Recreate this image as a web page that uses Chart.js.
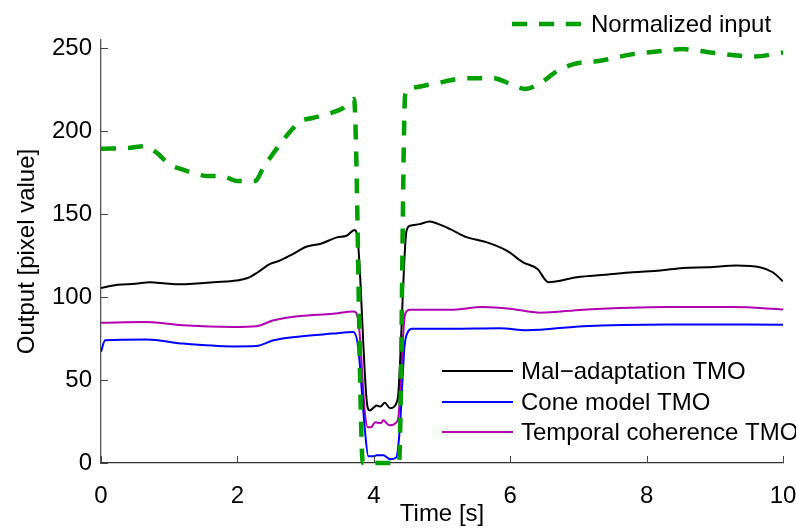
<!DOCTYPE html>
<html>
<head>
<meta charset="utf-8">
<script src="https://cdn.jsdelivr.net/npm/chart.js@4.4.1/dist/chart.umd.min.js"></script>
<style>
    html, body { margin: 0; padding: 0; background: #fff; }
    #wrap { width: 796px; height: 529px; position: relative; }
</style>
</head>
<body>
<div id="wrap"><canvas id="ourChart" width="796" height="529"></canvas></div>
<script>
// значения
const xTicks = [0, 2, 4, 6, 8, 10];
const yTicks = [0, 50, 100, 150, 200, 250];

const inputTime = [0, 0.43, 0.62, 0.82, 1.0, 1.19, 1.33, 1.57, 1.77, 2.0, 2.26, 2.29, 2.38, 2.48, 2.62, 2.82, 2.92, 3.1, 3.33, 3.55, 3.71, 3.84, 4.0, 4.2, 4.37, 4.46, 4.53, 4.87, 5.37, 5.75, 6.0, 6.22, 6.44, 6.68, 6.93, 7.32, 7.8, 8.15, 8.53, 8.93, 9.37, 9.56, 10];
const inputValue = [189.5, 190, 191, 187, 180, 177, 175, 173, 173, 170, 170, 171, 178, 184, 192, 202, 206, 208, 210.5, 214, 219.5, 0, 0, 0, 0, 222, 226, 228.5, 232, 232, 228.5, 225.5, 229, 236, 240.5, 242.5, 246.5, 248, 249.5, 247.5, 245.5, 245, 247.5];

const malTime = [0, 0.25, 0.5, 0.72, 0.95, 1.16, 1.4, 1.65, 1.99, 2.15, 2.3, 2.48, 2.62, 2.77, 3.02, 3.21, 3.46, 3.6, 3.72, 3.77, 3.9, 3.94, 4.0, 4.04, 4.1, 4.16, 4.24, 4.3, 4.33, 4.36, 4.48, 4.53, 4.67, 4.82, 4.95, 5.12, 5.37, 5.66, 5.95, 6.19, 6.4, 6.56, 6.98, 7.4, 7.8, 8.2, 8.53, 8.9, 9.32, 9.66, 9.85, 10];
const malValue = [105.5, 107.5, 108, 109, 108.2, 107.7, 108.2, 109, 110, 111.5, 115, 120, 122, 125, 130.5, 132, 136, 137, 140.5, 132, 36, 31.7, 33.5, 34.6, 34, 36.3, 33, 34, 36, 42, 140, 143, 144, 145.6, 144, 141, 136, 133, 128, 121, 117, 109, 112, 113.5, 115, 116, 117.6, 118, 119, 118, 115, 109.5];

const coneTime = [0, 0.06, 0.67, 1.2, 1.94, 2.28, 2.53, 2.92, 3.4, 3.7, 3.77, 3.87, 3.92, 4.0, 4.04, 4.14, 4.24, 4.33, 4.38, 4.45, 4.5, 4.56, 5.12, 5.85, 6.24, 7.07, 8.3, 10];
const coneValue = [67, 74, 74.5, 72, 70.3, 70.5, 74, 76.3, 78, 79, 70, 19.7, 4, 4, 4.6, 4.6, 2.2, 3.4, 20, 70, 79, 81, 81, 81.3, 80, 82.5, 83.5, 83.4];

const coherenceTime = [0, 0.67, 1.2, 1.94, 2.28, 2.53, 2.92, 3.4, 3.7, 3.77, 3.87, 3.91, 3.96, 4.02, 4.1, 4.14, 4.2, 4.24, 4.33, 4.36, 4.46, 4.53, 5.12, 5.6, 6.0, 6.44, 7.07, 8.3, 9.27, 10];
const coherenceValue = [84.6, 85, 83, 82, 82.5, 86, 88.6, 90, 91.4, 87, 30, 21.5, 21.5, 24.5, 24, 25.7, 23.5, 22.7, 24.5, 27.5, 90, 92.4, 92.4, 94, 93, 90.6, 92.4, 94, 94, 92.6];

const fontFamily = '"Liberation Sans", Arial, Helvetica, sans-serif';
const fontSize = 24;

function toPoints(times, values) {
    let pts = [];
    for (let i = 0; i < times.length; i++) {
        pts.push({x: times[i], y: values[i]});
    }
    return pts;
}

// засечки внутрь графика, как в MATLAB
const innerTicks = {
    id: 'innerTicks',
    afterDraw(chart) {
        const ctx = chart.ctx;
        const xs = chart.scales.x, ys = chart.scales.y;
        const area = chart.chartArea;
        ctx.save();
        ctx.strokeStyle = '#444';
        ctx.lineWidth = 1;
        ctx.beginPath();
        xTicks.forEach(v => {
            const px = Math.round(xs.getPixelForValue(v)) + 0.5;
            ctx.moveTo(px, area.bottom);
            ctx.lineTo(px, area.bottom - 7);
        });
        yTicks.forEach(v => {
            const py = Math.round(ys.getPixelForValue(v)) + 0.5;
            ctx.moveTo(area.left, py);
            ctx.lineTo(area.left + 7, py);
        });
        ctx.stroke();
        ctx.restore();
    }
};

// легенда: первая серия над графиком, остальные внутри справа внизу
const splitLegend = {
    id: 'splitLegend',
    afterDraw(chart) {
        const ctx = chart.ctx;
        const sets = chart.data.datasets;
        const items = [
            {ds: sets[0], x: 512, y: 24},
            {ds: sets[1], x: 442, y: 371},
            {ds: sets[2], x: 442, y: 402},
            {ds: sets[3], x: 442, y: 432}
        ];
        ctx.save();
        ctx.font = fontSize + 'px ' + fontFamily;
        ctx.textBaseline = 'middle';
        ctx.fillStyle = '#000';
        items.forEach(it => {
            ctx.beginPath();
            ctx.strokeStyle = it.ds.borderColor;
            ctx.lineWidth = it.ds.borderWidth;
            ctx.setLineDash(it.ds.borderDash || []);
            ctx.moveTo(it.x, it.y);
            ctx.lineTo(it.x + 71, it.y);
            ctx.stroke();
            ctx.setLineDash([]);
            ctx.fillText(it.ds.label, it.x + 79, it.y + 1);
        });
        ctx.restore();
    }
};

const chartElement = new Chart(document.getElementById('ourChart'), {
    type: 'line',
    data: {
        datasets: [
            {
                label: 'Normalized input',
                data: toPoints(inputTime, inputValue),
                borderColor: '#00a000',
                borderWidth: 4.5,
                borderDash: [15, 12],
                clip: 6
            },
            {
                label: 'Mal\u2212adaptation TMO',
                data: toPoints(malTime, malValue),
                borderColor: '#000000',
                borderWidth: 2
            },
            {
                label: 'Cone model TMO',
                data: toPoints(coneTime, coneValue),
                borderColor: '#0000ff',
                borderWidth: 2
            },
            {
                label: 'Temporal coherence TMO',
                data: toPoints(coherenceTime, coherenceValue),
                borderColor: '#b000b0',
                borderWidth: 2
            }
        ]
    },
    options: {
        responsive: false,
        animation: false,
        events: [],
        layout: {
            padding: {top: 40, right: 13, left: 0, bottom: 0}
        },
        elements: {
            point: {radius: 0},
            line: {cubicInterpolationMode: 'monotone', fill: false}
        },
        plugins: {
            legend: {display: false},
            tooltip: {enabled: false}
        },
        scales: {
            x: {
                type: 'linear',
                min: 0,
                max: 10,
                afterBuildTicks: s => { s.ticks = xTicks.map(v => ({value: v})); },
                afterFit: s => { s.height = 66; s.paddingLeft = 0; s.paddingRight = 0; },
                grid: {display: false, drawTicks: false},
                border: {display: true, color: '#333', width: 1.3},
                ticks: {
                    color: '#000',
                    padding: 19,
                    maxRotation: 0,
                    font: {family: fontFamily, size: fontSize}
                },
                title: {
                    display: true,
                    text: 'Time [s]',
                    color: '#000',
                    padding: {top: 0, bottom: 0},
                    font: {family: fontFamily, size: fontSize}
                }
            },
            y: {
                min: 0,
                max: 255,
                afterBuildTicks: s => { s.ticks = yTicks.map(v => ({value: v})); },
                afterFit: s => { s.width = 101; s.paddingTop = 0; s.paddingBottom = 0; },
                grid: {display: false, drawTicks: false},
                border: {display: true, color: '#555', width: 1.3},
                ticks: {
                    color: '#000',
                    padding: 9,
                    font: {family: fontFamily, size: fontSize}
                },
                title: {
                    display: true,
                    text: 'Output [pixel value]',
                    color: '#000',
                    padding: {top: 13, bottom: 0},
                    font: {family: fontFamily, size: fontSize}
                }
            }
        }
    },
    plugins: [innerTicks, splitLegend]
});
</script>
</body>
</html>
